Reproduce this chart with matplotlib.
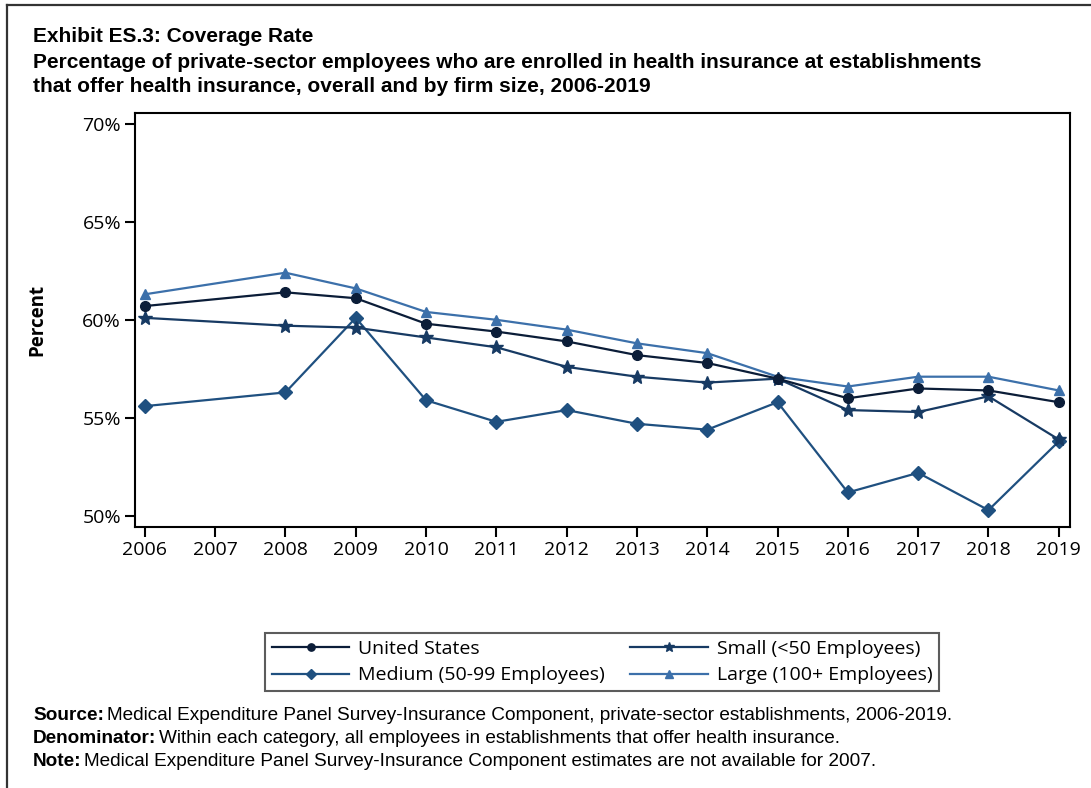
import matplotlib
matplotlib.use("Agg")
import matplotlib.pyplot as plt
from matplotlib.lines import Line2D

# Data (2007 not available)
years = [2006, 2008, 2009, 2010, 2011, 2012, 2013, 2014, 2015, 2016, 2017, 2018, 2019]
united_states = [60.7, 61.4, 61.1, 59.8, 59.4, 58.9, 58.2, 57.8, 57.0, 56.0, 56.5, 56.4, 55.8]
small = [60.1, 59.7, 59.6, 59.1, 58.6, 57.6, 57.1, 56.8, 57.0, 55.4, 55.3, 56.1, 53.9]
medium = [55.6, 56.3, 60.1, 55.9, 54.8, 55.4, 54.7, 54.4, 55.8, 51.2, 52.2, 50.3, 53.8]
large = [61.3, 62.4, 61.6, 60.4, 60.0, 59.5, 58.8, 58.3, 57.1, 56.6, 57.1, 57.1, 56.4]

x_ticks = list(range(2006, 2020))
y_ticks = [50, 55, 60, 65, 70]

W, H = 1091, 788
fig = plt.figure(figsize=(W / 100, H / 100), dpi=100)

# outer frame lines (left and top)
fig.add_artist(Line2D([7 / W, 7 / W], [0, 1 - 5 / H], color="#333333", lw=1.6))
fig.add_artist(Line2D([7 / W, 1], [1 - 5 / H, 1 - 5 / H], color="#333333", lw=1.6))

ax = fig.add_axes([135 / W, 1 - 527 / H, 935 / W, 414 / H])

series = [
    ("United States", united_states, "o", "#0b1d38", 7),
    ("Small (<50 Employees)", small, "*", "#173a63", 10.5),
    ("Medium (50-99 Employees)", medium, "D", "#1f5080", 7),
    ("Large (100+ Employees)", large, "^", "#3c70aa", 7),
]

# draw medium first so others sit on top like the reference
order = [2, 3, 1, 0]
handles = {}
for i in order:
    name, vals, mk, col, ms = series[i]
    h, = ax.plot(years, vals, marker=mk, color=col, lw=1.6, ms=ms, label=name)
    handles[name] = h

ax.set_xlim(2005.86, 2019.16)
ax.set_ylim(49.44, 70.54)
ax.set_xticks(x_ticks)
ax.set_yticks(y_ticks)
ax.set_yticklabels([f"{v}%" for v in y_ticks])
tick_font = "Open Sans"
for lab in ax.get_xticklabels() + ax.get_yticklabels():
    lab.set_fontfamily(tick_font)
    lab.set_fontsize(14)
ax.tick_params(direction="out", length=7, width=1.5, color="black", pad=3)
for sp in ax.spines.values():
    sp.set_linewidth(1.5)
fig.text(37 / W, 1 - 320 / H, "Percent", fontfamily=tick_font, fontsize=13.5,
         fontweight="bold", rotation=90, va="center", ha="center")

# titles
title_font = "Liberation Sans"
title_lines = [
    "Exhibit ES.3: Coverage Rate",
    "Percentage of private-sector employees who are enrolled in health insurance at establishments",
    "that offer health insurance, overall and by firm size, 2006-2019",
]
for k, line in enumerate(title_lines):
    fig.text(33 / W, 1 - (37 + 25 * k) / H, line, fontfamily=title_font,
             fontsize=15, fontweight="bold", va="center", ha="left")

# legend
leg_order = ["United States", "Medium (50-99 Employees)", "Small (<50 Employees)", "Large (100+ Employees)"]
leg = fig.legend([handles[n] for n in leg_order], leg_order, ncol=2,
                 loc="center", bbox_to_anchor=(602 / W, 1 - 662 / H),
                 prop={"family": tick_font, "size": 14}, frameon=True, fancybox=False,
                 edgecolor="#333333", markerscale=0.75, handlelength=4.0,
                 handletextpad=0.45, columnspacing=1.3, borderpad=0.35, labelspacing=0.45)
leg.get_frame().set_linewidth(1.5)

# footnotes
notes = [
    ("Source:", "Medical Expenditure Panel Survey-Insurance Component, private-sector establishments, 2006-2019."),
    ("Denominator:", "Within each category, all employees in establishments that offer health insurance."),
    ("Note:", "Medical Expenditure Panel Survey-Insurance Component estimates are not available for 2007."),
]
fig.canvas.draw()
renderer = fig.canvas.get_renderer()
for k, (bold, rest) in enumerate(notes):
    y = 1 - (716 + 22.5 * k) / H
    t = fig.text(33 / W, y, bold, fontfamily=title_font, fontsize=13.7, fontweight="bold",
                 va="center", ha="left")
    bb = t.get_window_extent(renderer)
    fig.text((bb.x1 + 3) / W, y, rest, fontfamily=title_font, fontsize=13.7, va="center", ha="left")

fig.savefig("out.png", dpi=100)
